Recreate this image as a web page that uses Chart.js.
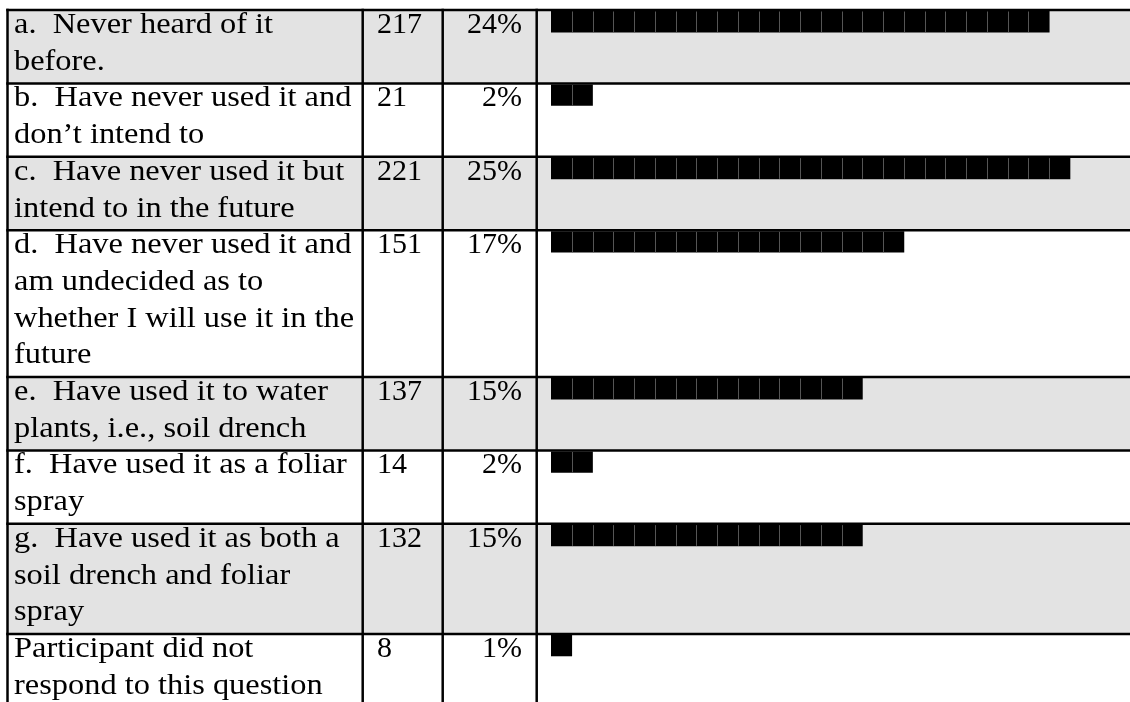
<!DOCTYPE html>
<html>
<head>
<meta charset="utf-8">
<script src="https://cdn.jsdelivr.net/npm/chart.js@4.4.1/dist/chart.umd.min.js"></script>
<style>
  html, body { margin: 0; padding: 0; background: #fff; }
  #wrap { position: relative; width: 1130px; height: 702px; }
</style>
</head>
<body>
<div id="wrap"><canvas id="chart"></canvas></div>
<script>
const answers = [
    ['a.  Never heard of it', 'before.'],
    ['b.  Have never used it and', 'don\u2019t intend to'],
    ['c.  Have never used it but', 'intend to in the future'],
    ['d.  Have never used it and', 'am undecided as to', 'whether I will use it in the', 'future'],
    ['e.  Have used it to water', 'plants, i.e., soil drench'],
    ['f.  Have used it as a foliar', 'spray'],
    ['g.  Have used it as both a', 'soil drench and foliar', 'spray'],
    ['Participant did not', 'respond to this question']
];
const counts = [217, 21, 221, 151, 137, 14, 132, 8];
const percents = [24, 2, 25, 17, 15, 2, 15, 1];

// --- layout ---
const W = 1130, H = 702;
const TOP = 10;
const LINE = 36.7;          // px per text line
const BLOCK = 20.76;        // px per 1%
const BAR_LEFT = 551;
const RIGHT_PAD = 8;
const COL_X = [7.5, 362.7, 442.7, 536.7];
const GREY = '#e3e3e3';
const FONT = '30px "Liberation Serif", "Times New Roman", serif';
const LABEL_STRETCH = 1.08;
const BASE = 23;

// row start (in line units) from wrapped label lengths
const rowStart = [];
let acc = 0;
answers.forEach(lines => { rowStart.push(acc); acc += lines.length; });
rowStart.push(acc);

const barOffset = 11.7 / LINE;
const barData = percents.map((p, i) => ({ x: p, y: rowStart[i] + barOffset }));

const tablePlugin = {
    id: 'tablePlugin',
    beforeDatasetsDraw(chart) {
        const ctx = chart.ctx;
        const ys = chart.scales.y;
        ctx.save();
        answers.forEach((lines, i) => {
            if (i % 2 !== 0) return;
            const y0 = ys.getPixelForValue(rowStart[i]);
            const y1 = ys.getPixelForValue(rowStart[i + 1]);
            ctx.fillStyle = GREY;
            ctx.fillRect(COL_X[0], y0, W - COL_X[0], y1 - y0);
        });
        ctx.restore();
    },
    afterDatasetsDraw(chart) {
        const ctx = chart.ctx;
        const xs = chart.scales.x;
        const ys = chart.scales.y;
        ctx.save();

        // block separators inside each bar (one block = 1%)
        const meta = chart.getDatasetMeta(0);
        ctx.strokeStyle = '#555';
        ctx.lineWidth = 1;
        meta.data.forEach((bar, i) => {
            const top = bar.y - bar.height / 2;
            const bot = bar.y + bar.height / 2;
            for (let k = 1; k < percents[i]; k++) {
                const px = Math.round(xs.getPixelForValue(k)) + 0.5;
                ctx.beginPath();
                ctx.moveTo(px, top);
                ctx.lineTo(px, bot);
                ctx.stroke();
            }
        });

        // text
        ctx.fillStyle = '#000';
        ctx.font = FONT;
        ctx.textBaseline = 'alphabetic';
        answers.forEach((lines, i) => {
            const y0 = ys.getPixelForValue(rowStart[i]);
            lines.forEach((t, j) => {
                ctx.save();
                ctx.translate(14, y0 + BASE + j * LINE);
                ctx.scale(LABEL_STRETCH, 1);
                ctx.textAlign = 'left';
                ctx.fillText(t, 0, 0);
                ctx.restore();
            });
            ctx.textAlign = 'left';
            ctx.fillText(String(counts[i]), 377, y0 + BASE);
            ctx.textAlign = 'right';
            ctx.fillText(percents[i] + '%', 522, y0 + BASE);
        });

        // grid lines
        ctx.strokeStyle = '#000';
        ctx.lineWidth = 2.5;
        rowStart.forEach(r => {
            const y = ys.getPixelForValue(r);
            if (y > H + 2) return;
            ctx.beginPath();
            ctx.moveTo(COL_X[0] - 1.25, y);
            ctx.lineTo(W, y);
            ctx.stroke();
        });
        COL_X.forEach(x => {
            ctx.beginPath();
            ctx.moveTo(x, TOP - 1.25);
            ctx.lineTo(x, H);
            ctx.stroke();
        });
        ctx.restore();
    }
};

const chartEl = document.getElementById('chart');
new Chart(chartEl, {
    type: 'bar',
    data: {
        datasets: [{
            data: barData,
            backgroundColor: '#000',
            borderWidth: 0,
            barThickness: 20.7
        }]
    },
    options: {
        indexAxis: 'y',
        responsive: true,
        maintainAspectRatio: false,
        animation: false,
        layout: { padding: { left: BAR_LEFT, right: RIGHT_PAD, top: TOP, bottom: 0 } },
        scales: {
            x: {
                type: 'linear',
                min: 0,
                max: (W - BAR_LEFT - RIGHT_PAD) / BLOCK,
                offset: false,
                display: false
            },
            y: {
                type: 'linear',
                reverse: true,
                min: 0,
                max: (H - TOP) / LINE,
                offset: false,
                display: false
            }
        },
        plugins: {
            legend: { display: false },
            tooltip: { enabled: false }
        }
    },
    plugins: [tablePlugin]
});
</script>
</body>
</html>
